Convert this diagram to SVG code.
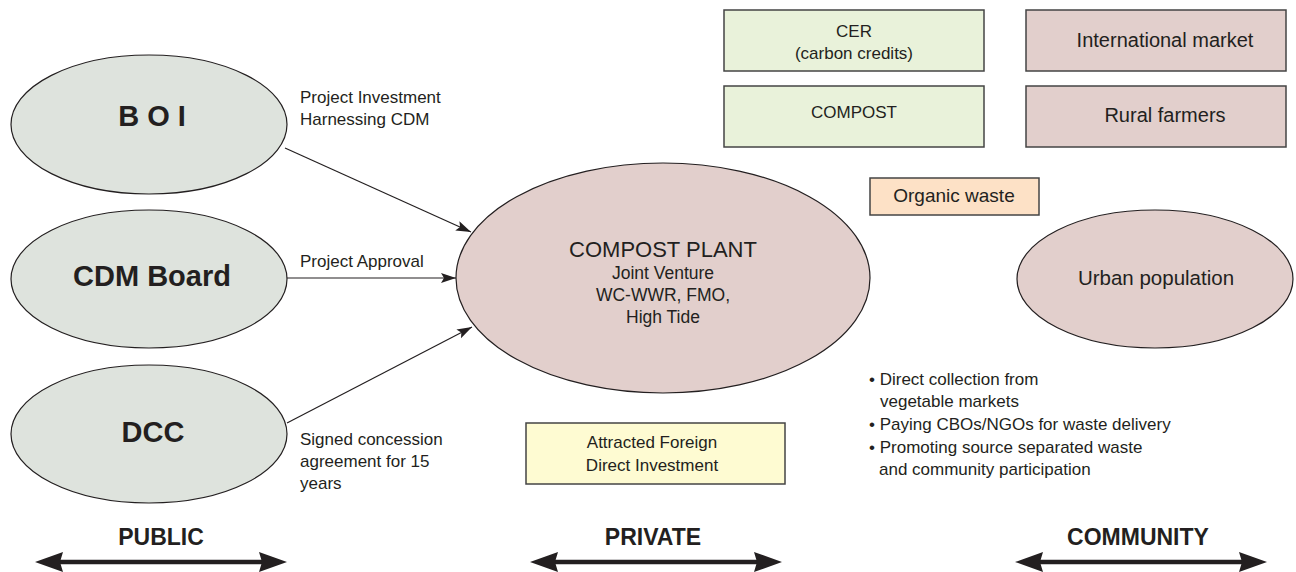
<svg xmlns="http://www.w3.org/2000/svg" width="1296" height="572" viewBox="0 0 1296 572">
<defs>
<style>
text{font-family:"Liberation Sans",Arial,sans-serif;fill:#231f20}
.pub{fill:#dee3dd;stroke:#231f20;stroke-width:1.2}
.pink{fill:#e2cfcc;stroke:#231f20;stroke-width:1.2}
.green{fill:#e9f2da;stroke:#444;stroke-width:1.5}
.pbox{fill:#e2cfcc;stroke:#444;stroke-width:1.5}
.big{font-size:29px;font-weight:bold;text-anchor:middle}
.lbl{font-size:17px}
.c{text-anchor:middle}
.conn{stroke:#231f20;stroke-width:1.2;fill:none;marker-end:url(#ah)}
.axis{stroke:#231f20;stroke-width:4.5;fill:none}
.ax{font-size:23px;font-weight:bold;text-anchor:middle}
</style>
<marker id="ah" markerUnits="userSpaceOnUse" markerWidth="16" markerHeight="12" refX="15" refY="5" orient="auto">
<path d="M0,0 L15,5 L0,10 L3,5 z" fill="#231f20"/>
</marker>
</defs>
<rect width="1296" height="572" fill="#fff"/>

<g id="boi">
<ellipse class="pub" cx="149" cy="124.5" rx="138" ry="69.5"/>
<text class="big" x="152" y="126">B O I</text>
</g>
<g id="cdm">
<ellipse class="pub" cx="149" cy="279" rx="138" ry="69"/>
<text class="big" x="152" y="286">CDM Board</text>
</g>
<g id="dcc">
<ellipse class="pub" cx="149" cy="434" rx="138" ry="69"/>
<text class="big" x="153" y="442">DCC</text>
</g>

<g id="compost-plant">
<ellipse class="pink" cx="663" cy="278" rx="207" ry="115"/>
<text class="c" x="663" y="257" font-size="22">COMPOST PLANT</text>
<text class="c" x="663" y="279" font-size="17.5">Joint Venture</text>
<text class="c" x="663" y="301" font-size="17.5">WC-WWR, FMO,</text>
<text class="c" x="663" y="323" font-size="17.5">High Tide</text>
</g>

<g id="cer">
<rect class="green" x="724" y="10" width="260" height="61"/>
<text class="c lbl" x="854" y="37">CER</text>
<text class="c lbl" x="854" y="59">(carbon credits)</text>
</g>
<g id="compost">
<rect class="green" x="724" y="86" width="260" height="61"/>
<text class="c lbl" x="854" y="118">COMPOST</text>
</g>
<g id="international-market">
<rect class="pbox" x="1026" y="10" width="260" height="61"/>
<text class="c" x="1165" y="47" font-size="20">International market</text>
</g>
<g id="rural-farmers">
<rect class="pbox" x="1026" y="86" width="260" height="61"/>
<text class="c" x="1165" y="122" font-size="20">Rural farmers</text>
</g>
<g id="organic-waste">
<rect x="870" y="178" width="169" height="37" fill="#fde1c6" stroke="#444" stroke-width="1.5"/>
<text class="c" x="954" y="202" font-size="19">Organic waste</text>
</g>
<g id="urban-population">
<ellipse class="pink" cx="1155" cy="279" rx="138" ry="69"/>
<text class="c" x="1156" y="285" font-size="20.5">Urban population</text>
</g>
<g id="fdi">
<rect x="526" y="423" width="259" height="61" fill="#fefbd2" stroke="#444" stroke-width="1.5"/>
<text class="c lbl" x="652" y="448">Attracted Foreign</text>
<text class="c lbl" x="652" y="471">Direct Investment</text>
</g>

<g id="labels">
<text class="lbl" x="300" y="103">Project Investment</text>
<text class="lbl" x="300" y="125">Harnessing CDM</text>
<text class="lbl" x="300" y="267">Project Approval</text>
<text class="lbl" x="300" y="445">Signed concession</text>
<text class="lbl" x="300" y="467">agreement for 15</text>
<text class="lbl" x="300" y="489">years</text>
<text class="lbl" x="869" y="385">• Direct collection from</text>
<text class="lbl" x="880" y="407">vegetable markets</text>
<text class="lbl" x="869" y="430">• Paying CBOs/NGOs for waste delivery</text>
<text class="lbl" x="869" y="453">• Promoting source separated waste</text>
<text class="lbl" x="879" y="475">and community participation</text>
</g>

<g id="connectors">
<line class="conn" x1="285" y1="148" x2="471" y2="232"/>
<line class="conn" x1="287" y1="278" x2="456" y2="278"/>
<line class="conn" x1="287" y1="423" x2="472" y2="327"/>
</g>

<g id="axes">
<text class="ax" x="161" y="545">PUBLIC</text>
<line class="axis" x1="55" y1="562" x2="267" y2="562"/>
<path d="M35,562 L63,552 L60,562 L63,572 z M287,562 L259,552 L262,562 L259,572 z" fill="#231f20"/>
<text class="ax" x="653" y="545">PRIVATE</text>
<line class="axis" x1="550" y1="562" x2="762" y2="562"/>
<path d="M530,562 L558,552 L555,562 L558,572 z M782,562 L754,552 L757,562 L754,572 z" fill="#231f20"/>
<text class="ax" x="1138" y="545">COMMUNITY</text>
<line class="axis" x1="1035" y1="562" x2="1247" y2="562"/>
<path d="M1015,562 L1043,552 L1040,562 L1043,572 z M1267,562 L1239,552 L1242,562 L1239,572 z" fill="#231f20"/>
</g>
</svg>
